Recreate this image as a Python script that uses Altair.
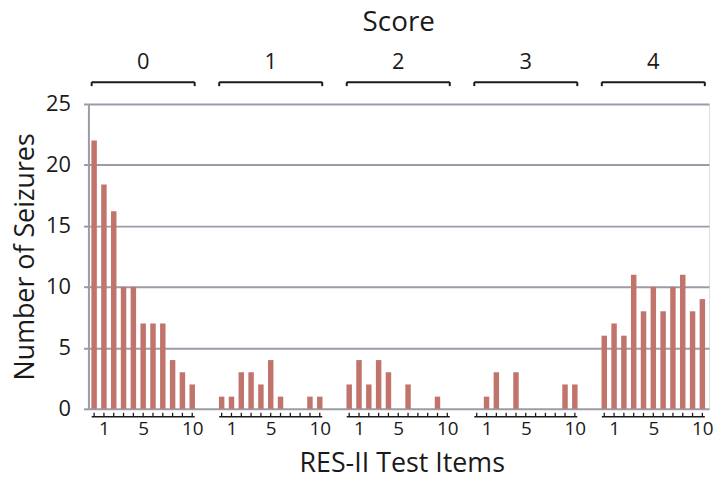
import altair as alt
import pandas as pd

# ---- data ----
scores = [0, 1, 2, 3, 4]
items = list(range(11))          # 11 bars per score group
label_items = [1, 5, 10]         # items that carry a tick label
score0 = [22, 18.4, 16.2, 10, 10, 7, 7, 7, 4, 3, 2]
score1 = [1, 1, 3, 3, 2, 4, 1, 0, 0, 1, 1]
score2 = [2, 4, 2, 4, 3, 0, 2, 0, 0, 1, 0]
score3 = [0, 1, 3, 0, 3, 0, 0, 0, 0, 2, 2]
score4 = [6, 7, 6, 11, 8, 10, 8, 10, 11, 8, 9]
series = [score0, score1, score2, score3, score4]

SLOT = 13  # 11 items + 2 empty slots between groups

W, H = 625, 307
FONT = "Open Sans"
GRAY = "#9c9ca8"
BAR = "#c1746b"
INK = "#1a1a1a"

rows = []
for s, vals in zip(scores, series):
    for it, v in zip(items, vals):
        rows.append({"score": s, "item": it, "count": v, "pos": s * SLOT + it})
bars_df = pd.DataFrame(rows)

grp_df = pd.DataFrame({
    "score": scores,
    "label": [str(s) for s in scores],
})
grp_df["start"] = grp_df["score"] * SLOT - 0.25
grp_df["end"] = grp_df["score"] * SLOT + 10.25
grp_df["center"] = grp_df["score"] * SLOT + 5

ends_df = pd.concat([
    grp_df[["start"]].rename(columns={"start": "x"}),
    grp_df[["end"]].rename(columns={"end": "x"}),
])

tick_vals = [s * SLOT + i for s in scores for i in label_items]

xscale = alt.Scale(domain=[-0.58, 62.68], nice=False, zero=False, padding=0)

bars = alt.Chart(bars_df).mark_bar(width=5.5, color=BAR).encode(
    x=alt.X("pos:Q", scale=xscale,
            axis=alt.Axis(values=tick_vals, labelExpr="'' + (datum.value % 13)",
                          ticks=False, domain=False, grid=False,
                          labelFont=FONT, labelFontSize=19, labelColor=INK,
                          labelPadding=11, labelFlush=False, labelOverlap=False,
                          title="RES-II Test Items", titleFont=FONT, titleFontSize=27,
                          titleFontWeight="normal", titleColor=INK,
                          titleX=W / 2 + 3, titleY=55, titleBaseline="middle",
                          titleAlign="center")),
    y=alt.Y("count:Q", scale=alt.Scale(domain=[0, 25], nice=False, padding=0),
            axis=alt.Axis(values=[0, 5, 10, 15, 20, 25], grid=True, gridColor=GRAY,
                          gridWidth=2, gridOpacity=1, domainColor=GRAY, domainWidth=2,
                          tickColor=GRAY, tickWidth=2, tickSize=5,
                          labelFont=FONT, labelFontSize=22, labelColor=INK,
                          labelPadding=13,
                          title="Number of Seizures", titleFont=FONT, titleFontSize=27,
                          titleFontWeight="normal", titleColor=INK,
                          titleX=-63, titleY=H / 2, titleAngle=-90,
                          titleBaseline="middle", titleAlign="center")),
)

# bottom brackets (item axis)
bot_line = alt.Chart(grp_df).mark_rule(color=INK, strokeWidth=1.5).encode(
    x=alt.X("start:Q", scale=xscale, axis=None), x2="end:Q",
    y=alt.value(H + 8),
)
bot_ticks = alt.Chart(bars_df).mark_rule(color=INK, strokeWidth=1.3).encode(
    x=alt.X("pos:Q", scale=xscale, axis=None),
    y=alt.value(H + 4), y2=alt.value(H + 8),
)

# top brackets (score groups)
top_line = alt.Chart(grp_df).mark_rule(color=INK, strokeWidth=2).encode(
    x=alt.X("start:Q", scale=xscale, axis=None), x2="end:Q",
    y=alt.value(-22),
)
top_ends = alt.Chart(ends_df).mark_rule(color=INK, strokeWidth=2).encode(
    x=alt.X("x:Q", scale=xscale, axis=None),
    y=alt.value(-22), y2=alt.value(-18),
)
top_labels = alt.Chart(grp_df).mark_text(font=FONT, fontSize=22, color=INK,
                                         baseline="middle", align="center").encode(
    x=alt.X("center:Q", scale=xscale, axis=None),
    y=alt.value(-42),
    text="label:N",
)
score_title = alt.Chart(pd.DataFrame({"t": ["Score"]})).mark_text(
    font=FONT, fontSize=28, color=INK, baseline="middle", align="center").encode(
    x=alt.value(W / 2), y=alt.value(-82), text="t:N",
)

chart = alt.layer(bars, bot_line, bot_ticks, top_line, top_ends, top_labels,
                  score_title).resolve_axis(x="independent").properties(
    width=W, height=H,
    autosize=alt.AutoSizeParams(type="none"),
    padding={"left": 81, "top": 95, "right": 6, "bottom": 70},
).configure_view(stroke=GRAY, strokeWidth=2).configure(background="white")

chart.save("out.html", embed_options={"renderer": "svg", "actions": False})
